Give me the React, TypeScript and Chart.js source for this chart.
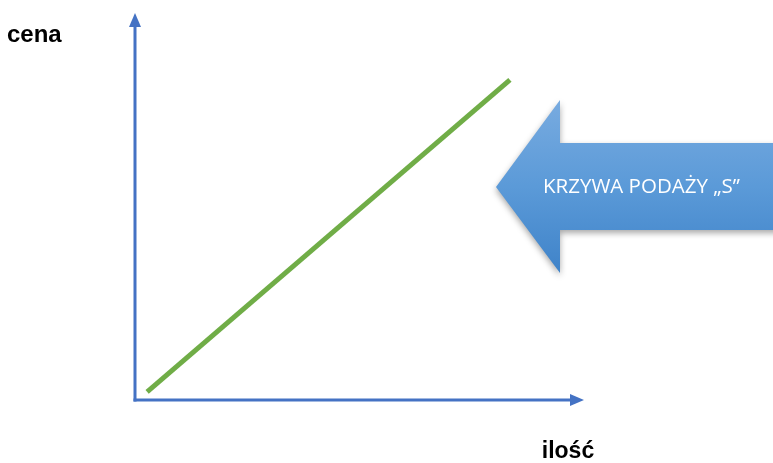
import React, { useEffect, useRef } from "react";
import { Chart, registerables } from "chart.js";

Chart.register(...registerables);

// Supply curve "S": quantity (x) vs price (y), arbitrary units 0..100
const supplyQuantity = [2.7, 83.5];
const supplyPrice = [2.1, 82.7];
const axisMax = 100;

const yAxisLabel = "cena";
const xAxisLabel = "ilość";
const calloutLabel = "KRZYWA PODAŻY „S”";

const AXIS_COLOR = "#4472C4";
const LINE_COLOR = "#70AD47";

const decorPlugin = {
  id: "decor",
  beforeDatasetsDraw(chart: any) {
    const { ctx, chartArea } = chart;
    const { left, right, top, bottom } = chartArea;
    ctx.save();
    ctx.strokeStyle = AXIS_COLOR;
    ctx.fillStyle = AXIS_COLOR;
    ctx.lineWidth = 3;
    ctx.lineCap = "butt";
    // y axis
    ctx.beginPath();
    ctx.moveTo(left, bottom + 1.5);
    ctx.lineTo(left, top + 12);
    ctx.stroke();
    ctx.beginPath();
    ctx.moveTo(left, top);
    ctx.lineTo(left - 6, top + 14);
    ctx.lineTo(left + 6, top + 14);
    ctx.closePath();
    ctx.fill();
    // x axis
    ctx.beginPath();
    ctx.moveTo(left - 1.5, bottom);
    ctx.lineTo(right - 12, bottom);
    ctx.stroke();
    ctx.beginPath();
    ctx.moveTo(right, bottom);
    ctx.lineTo(right - 14, bottom - 6);
    ctx.lineTo(right - 14, bottom + 6);
    ctx.closePath();
    ctx.fill();

    // axis labels
    ctx.fillStyle = "#000";
    ctx.font = "bold 24px 'Liberation Sans', Arial, sans-serif";
    ctx.textBaseline = "middle";
    ctx.textAlign = "left";
    ctx.fillText(yAxisLabel, 7, 35);
    ctx.font = "bold 23px 'Liberation Sans', Arial, sans-serif";
    ctx.textAlign = "center";
    ctx.fillText(xAxisLabel, 568, 452);

    // callout arrow
    const tipX = 496, tipY = 187;
    const headX = 560, headTop = 100, headBot = 273;
    const shaftTop = 143, shaftBot = 230, endX = 780;
    ctx.save();
    ctx.shadowColor = "rgba(0,0,0,0.35)";
    ctx.shadowBlur = 6;
    ctx.shadowOffsetY = 3;
    const g = ctx.createLinearGradient(0, headTop, 0, headBot);
    g.addColorStop(0, "#78abe0");
    g.addColorStop(0.5, "#5b9ad8");
    g.addColorStop(1, "#3f83c9");
    ctx.fillStyle = g;
    ctx.beginPath();
    ctx.moveTo(tipX, tipY);
    ctx.lineTo(headX, headTop);
    ctx.lineTo(headX, shaftTop);
    ctx.lineTo(endX, shaftTop);
    ctx.lineTo(endX, shaftBot);
    ctx.lineTo(headX, shaftBot);
    ctx.lineTo(headX, headBot);
    ctx.closePath();
    ctx.fill();
    ctx.restore();
    ctx.fillStyle = "#fff";
    ctx.font = "20.5px 'Open Sans', 'Liberation Sans', sans-serif";
    ctx.textAlign = "left";
    ctx.textBaseline = "middle";
    ctx.fillText(calloutLabel, 543, 187);
    ctx.restore();
  },
};

export default function App() {
  const ref = useRef<HTMLCanvasElement | null>(null);
  useEffect(() => {
    if (!ref.current) return;
    const chart = new Chart(ref.current, {
      type: "scatter",
      data: {
        datasets: [
          {
            label: "S",
            data: supplyQuantity.map((q, i) => ({ x: q, y: supplyPrice[i] })),
            showLine: true,
            borderColor: LINE_COLOR,
            borderWidth: 5,
            borderCapStyle: "butt",
            pointRadius: 0,
            fill: false,
          },
        ],
      },
      options: {
        responsive: false,
        animation: false,
        layout: { padding: { left: 135, right: 773 - 584, top: 13, bottom: 63 } },
        plugins: { legend: { display: false }, tooltip: { enabled: false } },
        scales: {
          x: { type: "linear", min: 0, max: axisMax, display: false },
          y: { type: "linear", min: 0, max: axisMax, display: false },
        },
      },
      plugins: [decorPlugin],
    });
    return () => chart.destroy();
  }, []);
  return (
    <div style={{ position: "fixed", left: 0, top: 0, width: 773, height: 463, background: "#fff" }}>
      <canvas ref={ref} width={773} height={463} style={{ width: 773, height: 463, display: "block" }} />
    </div>
  );
}
